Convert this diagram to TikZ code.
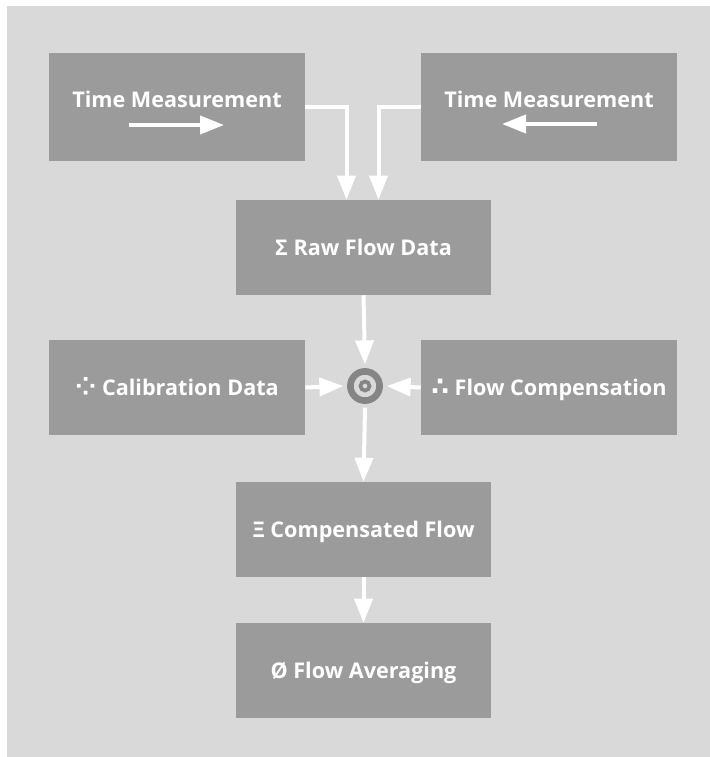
\documentclass[tikz,border=0pt]{standalone}
\usepackage{fontspec}
\setmainfont{Open Sans}
\newfontfamily\dotsfont{DejaVu Sans}
\usetikzlibrary{arrows.meta}
\definecolor{bggray}{HTML}{D9D9D9}
\definecolor{boxgray}{HTML}{9B9B9B}
\definecolor{ringgray}{HTML}{858585}
\newcommand{\dotmark}[1]{{\dotsfont\fontsize{19}{18}\selectfont #1}}
\begin{document}
\begin{tikzpicture}[x=0.75pt,y=-0.75pt,
        box/.style={rectangle, fill=boxgray, minimum width=192pt, minimum height=71.25pt, inner sep=0pt},
        label/.style={text=white, font=\bfseries\fontsize{16.2}{18}\selectfont, inner sep=0pt, text height=11.6pt, text depth=0pt},
        flow/.style={draw=white, line width=3pt, -{Triangle[length=18pt,width=13.5pt]}}]
    %background
    \useasboundingbox (0,0) rectangle (710,757);
    \fill [bggray] (7,6) rectangle (710,757);
    %
    %time measurement, both directions
    \node[box, minimum height=81pt] (tmleft) at (177,107) {};
    \node[box, minimum height=81pt] (tmright) at (549,107) {};
    \node[label] (tmlefttext) at ([shift={(0,-7)}]tmleft.center) {Time Measurement};
    \node[label] (tmrighttext) at ([shift={(0,-7)}]tmright.center) {Time Measurement};
    \draw[flow] ([shift={(-48,18)}]tmleft.center) -- ([shift={(47,18)}]tmleft.center);
    \draw[flow] ([shift={(48,17)}]tmright.center) -- ([shift={(-47,17)}]tmright.center);
    %
    %raw data
    \node[box, label, minimum width=191.25pt] (raw) at (363.5,247.5) {Σ Raw Flow Data};
    \draw[flow] (tmleft.east) -| ([shift={(-17,0)}]raw.north);
    \draw[flow] (tmright.west) -| ([shift={(15,0)}]raw.north);
    %
    %side inputs
    \node[box, label] (calib) at (177,387.5) {\dotmark{⁘} Calibration Data};
    \node[box, label] (comp) at (549,387.5) {\dotmark{∴} Flow Compensation};
    %
    %hub
    \node[circle, minimum size=32pt, inner sep=0pt] (hub) at (365,386) {};
    \draw [ringgray, line width=5pt] (hub.center) circle (14.6);
    \draw [ringgray, line width=2.8pt] (hub.center) circle (4.5);
    \draw[flow] (raw.south) -- (hub.north);
    \draw[flow] (calib.east) -- (hub.west);
    \draw[flow] (comp.west) -- (hub.east);
    %
    %output chain
    \node[box, label, minimum width=191.25pt] (cflow) at (363.5,529.5) {Ξ Compensated Flow};
    \node[box, label, minimum width=191.25pt] (avg) at (363.5,670.5) {Ø Flow Averaging};
    \draw[flow] (hub.south) -- (cflow.north);
    \draw[flow] (cflow.south) -- (avg.north);
\end{tikzpicture}
\end{document}
